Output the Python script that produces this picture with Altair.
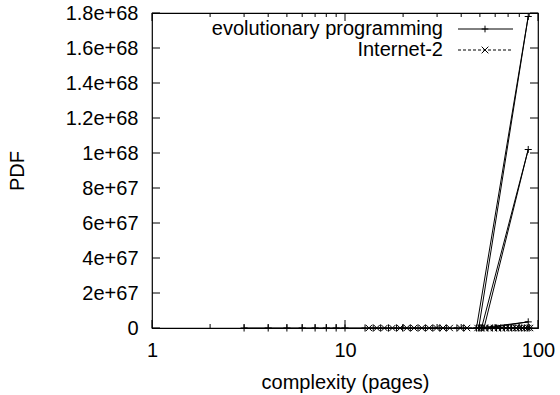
import altair as alt
import pandas as pd

# ---- data ----
ep_x = [3, 4, 5, 6, 7, 8, 9, 10, 12.7, 14.0, 15.3, 16.8, 18.5, 19.9, 21.8, 23.9, 26.1, 28.5, 31.0, 33.5, 38.0, 41.2,
        48.0, 89, 49.3, 51.0, 89, 52.5, 50.0, 89,
        55, 58, 61, 64, 67, 70, 73, 76, 79, 82, 85, 88, 90]
ep_y = [0, 0, 0, 0, 0, 0, 0, 0, 0, 0, 0, 0, 0, 0, 0, 0, 0, 0, 0, 0, 0, 0,
        0, 1.78e68, 0, 0, 1.02e68, 0, 0, 3.5e66,
        0, 0, 0, 0, 0, 0, 0, 0, 0, 0, 0, 0, 0]

in_x = [13.3, 14.6, 16.0, 17.6, 19.3, 20.9, 22.8, 25.0, 27.3, 29.8, 32.2, 34.9, 39.6, 42.9,
        48.6, 50.5, 53, 56, 59, 62, 65, 68, 71, 74, 77, 80, 83, 86, 89, 91]
in_y = [0, 0, 0, 0, 0, 0, 0, 0, 0, 0, 0, 0, 0, 0,
        0, 0, 0, 0, 0, 0, 0, 0, 0, 0, 0, 0, 0, 0, 0, 0]

series_names = ["evolutionary programming", "Internet-2"]
x_major = [1, 10, 100]
x_minor = [2, 3, 4, 5, 6, 7, 8, 9, 20, 30, 40, 50, 60, 70, 80, 90]
y_ticks = [0, 2e67, 4e67, 6e67, 8e67, 1e68, 1.2e68, 1.4e68, 1.6e68, 1.8e68]

W, H = 386, 315
FONT = "Liberation Sans"
FS = 20
PLUS = "M-1,0L1,0M0,-1L0,1"
CROSS = "M-1,-1L1,1M-1,1L1,-1"

df_ep = pd.DataFrame({"x": ep_x, "y": ep_y, "i": list(range(len(ep_x)))})
df_in = pd.DataFrame({"x": in_x, "y": in_y, "i": list(range(len(in_x)))})

xscale = alt.Scale(type="log", domain=[1, 100], nice=False)
yscale = alt.Scale(domain=[0, 1.8e68], nice=False, zero=False)

xaxis = alt.Axis(values=x_major, format="d", grid=False, ticks=False, domain=False, labelFlush=False,
                 labelFontSize=FS, labelFont=FONT, labelColor="black", labelPadding=12,
                 title="complexity (pages)", titleFontSize=FS, titleFont=FONT,
                 titleFontWeight="normal", titleColor="black", titlePadding=12)
yaxis = alt.Axis(values=y_ticks, grid=False, ticks=False, domain=False, labelFlush=False,
                 labelExpr="datum.value == 0 ? '0' : replace(format(datum.value, '.1e'), '.0e', 'e')",
                 labelFontSize=FS, labelFont=FONT, labelColor="black", labelPadding=14,
                 title="PDF", titleFontSize=FS, titleFont=FONT, titleFontWeight="normal",
                 titleColor="black", titlePadding=38)

X = alt.X("x:Q", scale=xscale, axis=xaxis)
Y = alt.Y("y:Q", scale=yscale, axis=yaxis)

ep_line = alt.Chart(df_ep).mark_line(color="black", strokeWidth=1).encode(x=X, y=Y, order=alt.Order("i:Q"))
ep_pts = alt.Chart(df_ep).mark_point(shape=PLUS, filled=False, color="black", strokeWidth=1, size=50, opacity=1).encode(x=X, y=Y)
in_line = alt.Chart(df_in).mark_line(color="black", strokeWidth=1, strokeDash=[3, 2]).encode(x=X, y=Y, order=alt.Order("i:Q"))
in_pts = alt.Chart(df_in).mark_point(shape=CROSS, filled=False, color="black", strokeWidth=1, size=40, opacity=1).encode(x=X, y=Y)

df_xmaj = pd.DataFrame({"x": x_major})
df_xmin = pd.DataFrame({"x": x_minor})
df_yt = pd.DataFrame({"y": y_ticks})

tick_style = dict(color="black", strokeWidth=1)
xmaj_b = alt.Chart(df_xmaj).mark_rule(**tick_style).encode(x=X, y=alt.value(H), y2=alt.value(H - 8))
xmaj_t = alt.Chart(df_xmaj).mark_rule(**tick_style).encode(x=X, y=alt.value(0), y2=alt.value(8))
xmin_b = alt.Chart(df_xmin).mark_rule(**tick_style).encode(x=X, y=alt.value(H), y2=alt.value(H - 4))
xmin_t = alt.Chart(df_xmin).mark_rule(**tick_style).encode(x=X, y=alt.value(0), y2=alt.value(4))
yt_l = alt.Chart(df_yt).mark_rule(**tick_style).encode(y=Y, x=alt.value(0), x2=alt.value(8))
yt_r = alt.Chart(df_yt).mark_rule(**tick_style).encode(y=Y, x=alt.value(W - 8), x2=alt.value(W))

# ---- legend (gnuplot style, inside top right) ----
leg_rows = [16, 37]
leg_text_x = 291
leg_x1, leg_x2, leg_mid = 306, 361, 333
legend_layers = []
for name, ry, dash, shp in [(series_names[0], leg_rows[0], None, PLUS), (series_names[1], leg_rows[1], [3, 2], CROSS)]:
    d = pd.DataFrame({"t": [name]})
    legend_layers.append(alt.Chart(d).mark_text(align="right", baseline="middle", font=FONT, fontSize=FS, color="black")
                         .encode(text="t:N", x=alt.value(leg_text_x), y=alt.value(ry)))
    rule_kwargs = dict(color="black", strokeWidth=1)
    if dash:
        rule_kwargs["strokeDash"] = dash
    legend_layers.append(alt.Chart(d).mark_rule(**rule_kwargs)
                         .encode(x=alt.value(leg_x1), x2=alt.value(leg_x2), y=alt.value(ry)))
    legend_layers.append(alt.Chart(d).mark_point(shape=shp, filled=False, color="black", strokeWidth=1, size=45, opacity=1)
                         .encode(x=alt.value(leg_mid), y=alt.value(ry)))

chart = alt.layer(ep_line, in_line, ep_pts, in_pts, xmaj_b, xmaj_t, xmin_b, xmin_t, yt_l, yt_r, *legend_layers).properties(
    width=W, height=H,
    autosize=alt.AutoSizeParams(type="none"),
    padding={"left": 152, "top": 13, "right": 22, "bottom": 67},
    background="white",
).configure_view(stroke="black", strokeWidth=1.2)

chart.save("out.html", embed_options={"renderer": "svg", "actions": False})
